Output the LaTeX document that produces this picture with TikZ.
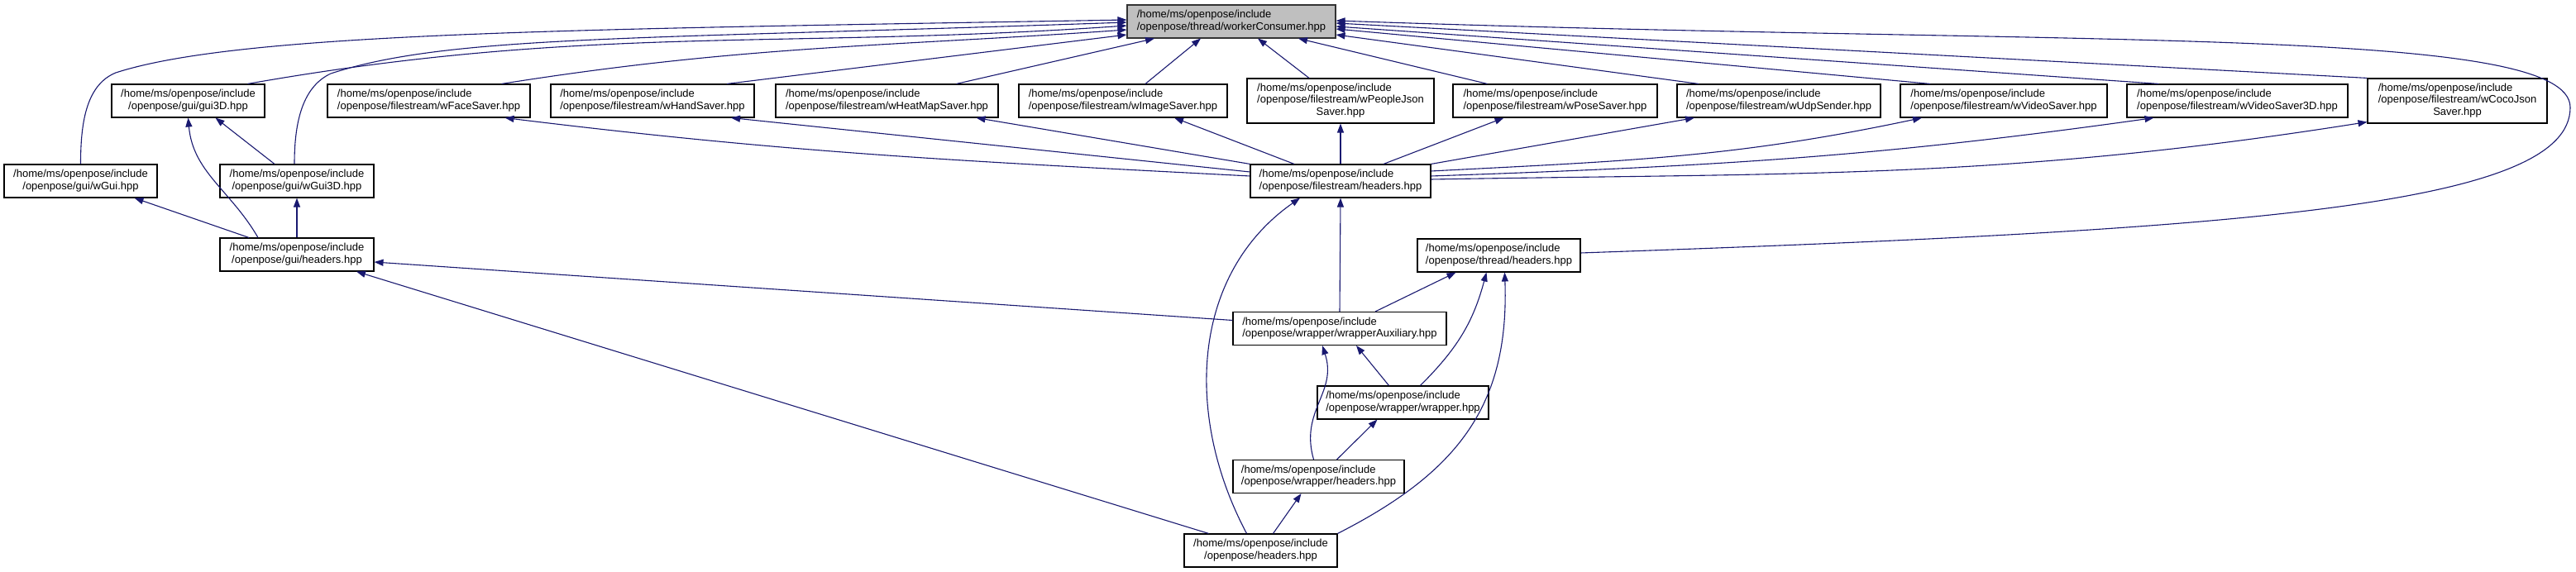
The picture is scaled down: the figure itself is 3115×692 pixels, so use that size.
\documentclass[tikz,border=0pt]{standalone}
\usepackage{fontspec}
\setmainfont{Liberation Sans}
\usepackage{tikz}
\usetikzlibrary{arrows.meta}
\definecolor{edgeblue}{HTML}{191970}
\definecolor{rootfill}{HTML}{BFBFBF}
% two-part label: path head left, last line centred
\newcommand{\incpath}[2]{\begin{tabular}{@{}l@{}}#1\\\multicolumn{1}{@{}c@{}}{#2}\end{tabular}}
\tikzset{
  % --- file boxes ---
  filebox/.style={draw=black, line width=1.1pt, fill=white, inner sep=4pt,
                  minimum height=40pt, font=\fontsize{13}{14.5}\selectfont},
  tallbox/.style={filebox, minimum height=54pt},
  rootfile/.style={filebox, fill=rootfill, draw=black!80},
  % --- include edges, head at the included file ---
  incl/.style={draw=edgeblue, line width=1.1pt,
               -{Triangle[length=11pt,width=8pt]}},
}

\begin{document}
\begin{tikzpicture}[x=1pt, y=1pt]
  \useasboundingbox (0,0) rectangle (3115,692);
  % top
  \node[rootfile, minimum width=252pt] (root) at (1489,666)
        {\incpath{/home/ms/openpose/include}{/openpose/thread/workerConsumer.hpp}};
  % second row
  \node[filebox, minimum width=185pt] (gui3D) at (227.5,570)
        {\incpath{/home/ms/openpose/include}{/openpose/gui/gui3D.hpp}};
  \node[filebox, minimum width=245pt] (faceS) at (518.5,570)
        {\incpath{/home/ms/openpose/include}{/openpose/filestream/wFaceSaver.hpp}};
  \node[filebox, minimum width=246pt] (handS) at (789,570)
        {\incpath{/home/ms/openpose/include}{/openpose/filestream/wHandSaver.hpp}};
  \node[filebox, minimum width=269pt] (heatS) at (1072.5,570)
        {\incpath{/home/ms/openpose/include}{/openpose/filestream/wHeatMapSaver.hpp}};
  \node[filebox, minimum width=252pt] (imageS) at (1358,570)
        {\incpath{/home/ms/openpose/include}{/openpose/filestream/wImageSaver.hpp}};
  \node[tallbox, minimum width=226pt] (peopleJ) at (1621,570)
        {\incpath{/home/ms/openpose/include\\/openpose/filestream/wPeopleJson}{Saver.hpp}};
  \node[filebox, minimum width=247pt] (poseS) at (1880.5,570)
        {\incpath{/home/ms/openpose/include}{/openpose/filestream/wPoseSaver.hpp}};
  \node[filebox, minimum width=246pt] (udpS) at (2151,570)
        {\incpath{/home/ms/openpose/include}{/openpose/filestream/wUdpSender.hpp}};
  \node[filebox, minimum width=250pt] (videoS) at (2423,570)
        {\incpath{/home/ms/openpose/include}{/openpose/filestream/wVideoSaver.hpp}};
  \node[filebox, minimum width=267pt] (video3D) at (2705.5,570)
        {\incpath{/home/ms/openpose/include}{/openpose/filestream/wVideoSaver3D.hpp}};
  \node[tallbox, minimum width=217pt] (cocoJ) at (2971.5,570)
        {\incpath{/home/ms/openpose/include\\/openpose/filestream/wCocoJson}{Saver.hpp}};
  % third row
  \node[filebox, minimum width=185pt] (wGui) at (97.5,473)
        {\incpath{/home/ms/openpose/include}{/openpose/gui/wGui.hpp}};
  \node[filebox, minimum width=186pt] (wGui3D) at (359,473)
        {\incpath{/home/ms/openpose/include}{/openpose/gui/wGui3D.hpp}};
  \node[filebox, minimum width=218pt] (fsH) at (1621,473)
        {\incpath{/home/ms/openpose/include}{/openpose/filestream/headers.hpp}};
  % lower part
  \node[filebox, minimum width=186pt] (guiH) at (359,384)
        {\incpath{/home/ms/openpose/include}{/openpose/gui/headers.hpp}};
  \node[filebox, minimum width=197pt] (threadH) at (1812.5,383)
        {\incpath{/home/ms/openpose/include}{/openpose/thread/headers.hpp}};
  \node[filebox, minimum width=258pt] (wrapAux) at (1620,294.5)
        {\incpath{/home/ms/openpose/include}{/openpose/wrapper/wrapperAuxiliary.hpp}};
  \node[filebox, minimum width=207pt] (wrapper) at (1696.5,205)
        {\incpath{/home/ms/openpose/include}{/openpose/wrapper/wrapper.hpp}};
  \node[filebox, minimum width=207pt] (wrapH) at (1594.5,115.5)
        {\incpath{/home/ms/openpose/include}{/openpose/wrapper/headers.hpp}};
  \node[filebox, minimum width=185pt] (opH) at (1524.5,26)
        {\incpath{/home/ms/openpose/include}{/openpose/headers.hpp}};

  \coordinate (guiTurn) at (140,604);
  \coordinate (g3Turn) at (400,603);
  \coordinate (thrTurn) at (3108,562);

  % into workerConsumer.hpp
  \draw[incl] (wGui.north) .. controls +(90:46) and +(202:40) .. (guiTurn)
        .. controls +(18:160) and +(181:650) .. ([yshift=2pt]root.west);
  \draw[incl] ([xshift=-3pt]wGui3D.north) .. controls +(90:46) and +(205:40) .. (g3Turn)
        .. controls +(18:150) and +(182:600) .. ([yshift=-1pt]root.west);
  \draw[incl] ([xshift=72pt]gui3D.north) .. controls +(10:417) and +(184:417) .. ([yshift=-5pt]root.west);
  \draw[incl] ([xshift=88pt]faceS.north) .. controls +(9:297) and +(184:297) .. ([yshift=-10pt]root.west);
  \draw[incl] ([xshift=90pt]handS.north) -- ([yshift=-16pt]root.west);
  \draw[incl] ([xshift=84pt]heatS.north) -- ([xshift=-93pt]root.south);
  \draw[incl] ([xshift=27pt]imageS.north) -- ([xshift=-37pt]root.south);
  \draw[incl] ([xshift=-38pt]peopleJ.north) -- ([xshift=32pt]root.south);
  \draw[incl] ([xshift=-82pt]poseS.north) -- ([xshift=81pt]root.south);
  \draw[incl] ([xshift=-97pt]udpS.north) -- ([yshift=-16pt]root.east);
  \draw[incl] ([xshift=-89pt]videoS.north) -- ([yshift=-9pt]root.east);
  \draw[incl] ([xshift=-95pt]video3D.north) -- ([yshift=-6pt]root.east);
  \draw[incl] (cocoJ.north west) -- ([yshift=-2pt]root.east);
  \draw[incl] ([yshift=3pt]threadH.east)
        .. controls +(2:800) and +(-90:120) .. (thrTurn)
        .. controls +(90:100) and +(-2:900) .. ([yshift=1pt]root.east);

  % into the gui files
  \draw[incl] ([xshift=-27pt]wGui3D.north) -- ([xshift=33pt]gui3D.south);
  \draw[incl] ([xshift=-47pt]guiH.north) .. controls +(120:66) and +(-85:66) .. (gui3D.south);
  \draw[incl] ([xshift=-58pt]guiH.north) -- ([xshift=65pt]wGui.south);
  \draw[incl] (guiH.north) -- (wGui3D.south);

  % into the filestream files
  \draw[incl] ([yshift=6pt]fsH.west) .. controls +(177:354) and +(-7:354) .. ([xshift=92pt]faceS.south);
  \draw[incl] ([yshift=11pt]fsH.west) -- ([xshift=95pt]handS.south);
  \draw[incl] (fsH.north west) -- ([xshift=108pt]heatS.south);
  \draw[incl] ([xshift=-56pt]fsH.north) -- ([xshift=62pt]imageS.south);
  \draw[incl] (fsH.north) -- (peopleJ.south);
  \draw[incl] ([xshift=52pt]fsH.north) -- ([xshift=-62pt]poseS.south);
  \draw[incl] (fsH.north east) -- ([xshift=-102pt]udpS.south);
  \draw[incl] ([yshift=12pt]fsH.east) .. controls +(3:234) and +(-168:234) .. ([xshift=-99pt]videoS.south);
  \draw[incl] ([yshift=6pt]fsH.east) .. controls +(2:343) and +(-172:343) .. ([xshift=-101pt]video3D.south);
  \draw[incl] ([yshift=2pt]fsH.east) .. controls +(1:444) and +(-171:444) .. ([yshift=2pt]cocoJ.south west);

  % headers and wrapper
  \draw[incl] (wrapAux.north) -- (fsH.south);
  \draw[incl] ([xshift=-17pt]opH.north) .. controls +(118:161) and +(-145:161) .. ([xshift=-49pt]fsH.south);
  \draw[incl] ([yshift=10pt]wrapAux.west) -- ([yshift=-9pt]guiH.east);
  \draw[incl] ([xshift=-63pt]opH.north) -- ([xshift=72pt]guiH.south);
  \draw[incl] ([xshift=43pt]wrapAux.north) -- ([xshift=-52pt]threadH.south);
  \draw[incl] ([xshift=21pt]wrapper.north) .. controls +(45:63) and +(-105:63) .. ([xshift=-15pt]threadH.south);
  \draw[incl] (opH.north east) .. controls +(27:162) and +(-88:162) .. ([xshift=7pt]threadH.south);
  \draw[incl] ([xshift=-17pt]wrapper.north) -- ([xshift=20pt]wrapAux.south);
  \draw[incl] ([xshift=-6pt]wrapH.north) .. controls +(106:62) and +(-72:60) .. ([xshift=-21pt]wrapAux.south);
  \draw[incl] ([xshift=22pt]wrapH.north) -- ([xshift=-31pt]wrapper.south);
  \draw[incl] ([xshift=15pt]opH.north) -- ([xshift=-21pt]wrapH.south);
\end{tikzpicture}
\end{document}
